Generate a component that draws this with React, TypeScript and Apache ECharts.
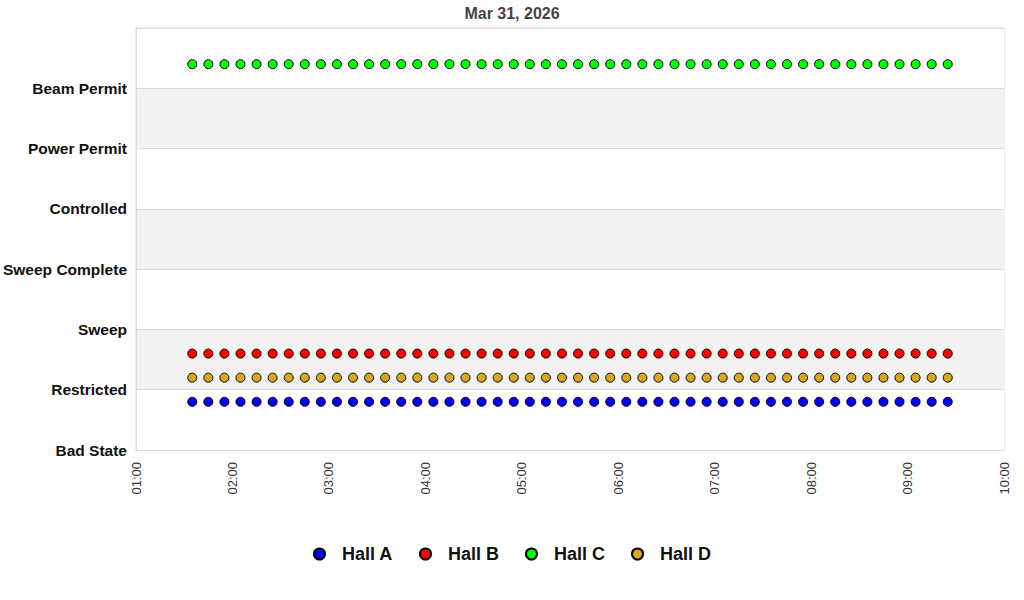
import { useEffect, useRef } from 'react'
import * as echarts from 'echarts'

const DAY = [2026, 2, 31]
const TITLE = 'Mar 31, 2026'

const STATES = ['Bad State', 'Restricted', 'Sweep', 'Sweep Complete', 'Controlled', 'Power Permit', 'Beam Permit']

const TIMES = [
  '01:35', '01:45', '01:55',
  '02:05', '02:15', '02:25', '02:35', '02:45', '02:55',
  '03:05', '03:15', '03:25', '03:35', '03:45', '03:55',
  '04:05', '04:15', '04:25', '04:35', '04:45', '04:55',
  '05:05', '05:15', '05:25', '05:35', '05:45', '05:55',
  '06:05', '06:15', '06:25', '06:35', '06:45', '06:55',
  '07:05', '07:15', '07:25', '07:35', '07:45', '07:55',
  '08:05', '08:15', '08:25', '08:35', '08:45', '08:55',
  '09:05', '09:15', '09:25',
]

const HALLS = ['Hall A', 'Hall B', 'Hall C', 'Hall D']
const HALL_COLORS = ['#0000ff', '#ff0000', '#00ff00', '#daa520']
// plotted level of each hall (state index plus a small per-hall offset)
const HALL_LEVELS = [0.8, 1.6, 6.4, 1.2]

const toMs = (hhmm: string) => {
  const [h, m] = hhmm.split(':').map(Number)
  return new Date(DAY[0], DAY[1], DAY[2], h, m).getTime()
}

export default function App() {
  const ref = useRef<HTMLDivElement>(null)

  useEffect(() => {
    if (!ref.current) return
    const chart = echarts.init(ref.current, null, { renderer: 'svg' })

    chart.setOption({
      animation: false,
      backgroundColor: '#fff',
      title: {
        text: TITLE,
        left: 'center',
        top: 0,
        textStyle: { fontFamily: 'Liberation Sans', fontSize: 16, fontWeight: 'bold', color: '#444' },
      },
      legend: {
        data: HALLS,
        bottom: 32,
        left: 'center',
        icon: 'circle',
        itemWidth: 11,
        itemHeight: 11,
        itemGap: 26,
        textStyle: {
          fontFamily: 'Liberation Sans',
          fontSize: 18,
          fontWeight: 'bold',
          color: '#111',
          padding: [0, 0, 0, 12],
        },
      },
      grid: {
        left: 136,
        right: 20,
        top: 28,
        bottom: 150,
        outerBoundsMode: 'none',
        show: true,
        borderColor: '#dcdcdc',
        borderWidth: 1,
      },
      xAxis: {
        type: 'time',
        min: toMs('01:00'),
        max: toMs('10:00'),
        interval: 3600 * 1000,
        axisLine: { show: true, lineStyle: { color: '#dcdcdc' } },
        axisTick: { show: false },
        splitLine: { show: false },
        axisLabel: {
          rotate: 90,
          margin: 12,
          fontFamily: 'Liberation Sans',
          fontSize: 13,
          color: '#333',
          showMinLabel: true,
          showMaxLabel: true,
          formatter: (v: number) => {
            const d = new Date(v)
            return String(d.getHours()).padStart(2, '0') + ':' + String(d.getMinutes()).padStart(2, '0')
          },
        },
      },
      yAxis: {
        type: 'value',
        min: 0,
        max: 7,
        interval: 1,
        axisLine: { show: true, lineStyle: { color: '#dcdcdc' } },
        axisTick: { show: false },
        splitLine: { show: true, lineStyle: { color: '#dcdcdc' } },
        splitArea: { show: true, areaStyle: { color: ['#ffffff', '#f2f2f2'] } },
        axisLabel: {
          margin: 9,
          fontFamily: 'Liberation Sans',
          fontSize: 15.5,
          fontWeight: 'bold',
          color: '#111',
          formatter: (v: number) => STATES[v] ?? '',
        },
      },
      series: HALLS.map((name, i) => ({
        name,
        type: 'scatter',
        symbol: 'circle',
        symbolSize: 9,
        itemStyle: { color: HALL_COLORS[i], borderColor: '#000', borderWidth: 1, opacity: 1 },
        data: TIMES.map((t) => [toMs(t), HALL_LEVELS[i]]),
      })),
    })

    return () => chart.dispose()
  }, [])

  return <div ref={ref} style={{ position: 'absolute', left: 0, top: 0, width: 1024, height: 600 }} />
}
